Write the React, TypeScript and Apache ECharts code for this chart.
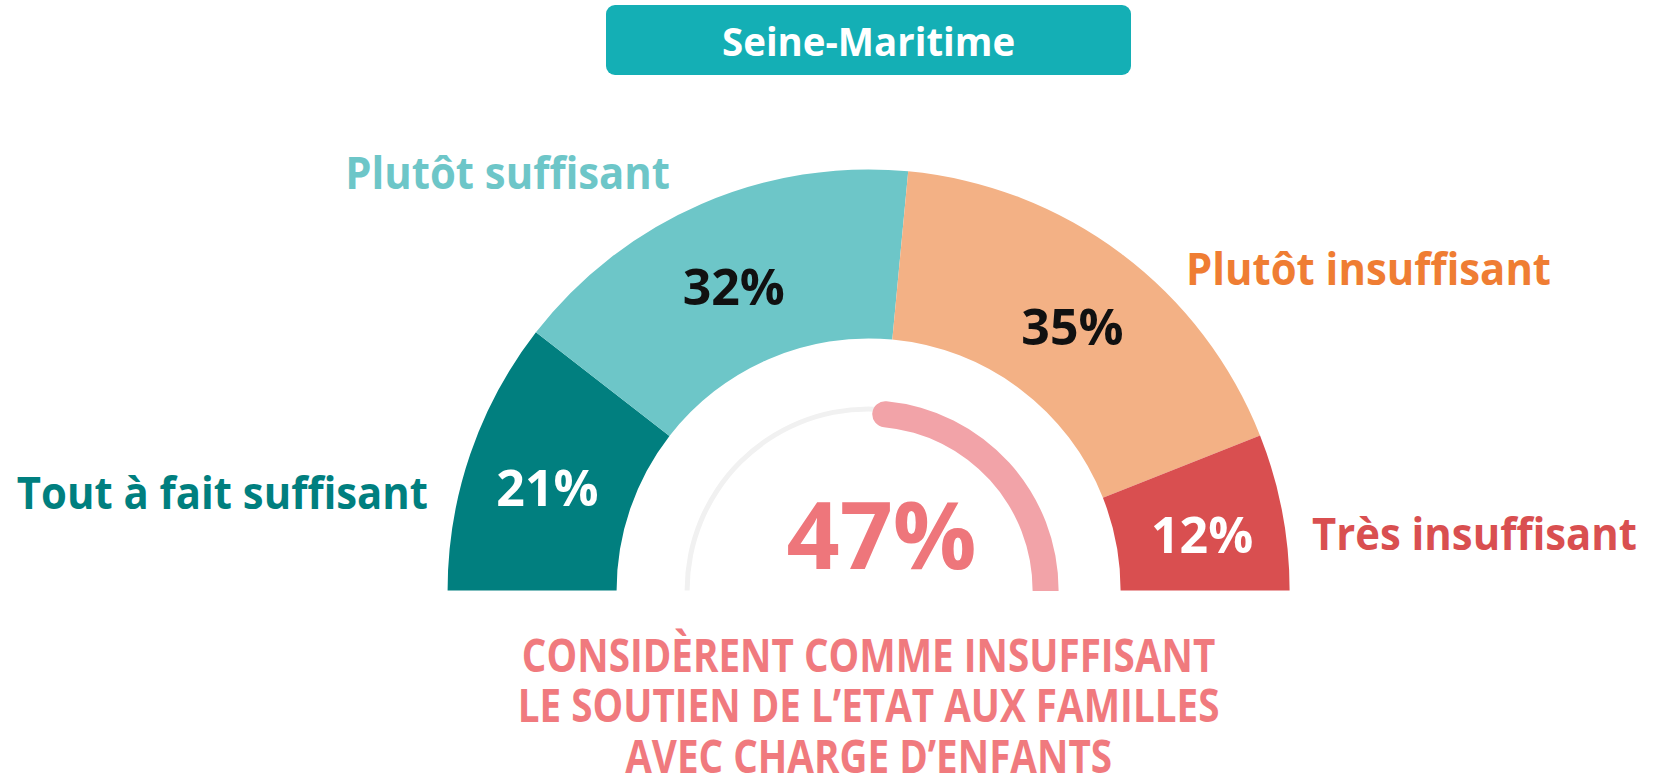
import React, { useEffect, useRef } from "react";
import * as echarts from "echarts";

const title = "Seine-Maritime";
const categories = ["Tout à fait suffisant", "Plutôt suffisant", "Plutôt insuffisant", "Très insuffisant"];
const values = [21, 32, 35, 12];
const sliceColors = ["#017f7f", "#6dc6c8", "#f3b185", "#d94f50"];
const valueLabelColors = ["#ffffff", "#111111", "#111111", "#ffffff"];
const categoryLabelColors = ["#007f7f", "#6dc6c8", "#ef7d33", "#d94f50"];
const insufficientShare = 47;
const captionLines = [
  "CONSIDÈRENT COMME INSUFFISANT",
  "LE SOUTIEN DE L\u2019ETAT AUX FAMILLES",
  "AVEC CHARGE D\u2019ENFANTS",
];

const FONT = "'Open Sans', 'Noto Sans', sans-serif";
const CX = 868.6;
const CY = 590.4;

// label anchor layout (annotations)
const labelLayout = [
  { x: 428, y: 492, align: "right" },
  { x: 670, y: 172, align: "right" },
  { x: 1186, y: 268, align: "left" },
  { x: 1312, y: 533, align: "left" },
];

export default function App() {
  const ref = useRef<HTMLDivElement>(null);
  useEffect(() => {
    if (!ref.current) return;
    const chart = echarts.init(ref.current, null, { renderer: "svg" });
    const total = values.reduce((a, b) => a + b, 0);
    const pieData: any[] = values.map((v, i) => ({
      name: categories[i],
      value: v,
      itemStyle: { color: sliceColors[i] },
      label: { color: valueLabelColors[i] },
    }));
    pieData.push({
      name: "hidden",
      value: total,
      itemStyle: { color: "none" },
      label: { show: false },
      emphasis: { disabled: true },
    });

    const graphics: any[] = [
      {
        type: "rect",
        shape: { x: 606, y: 5, width: 525, height: 70, r: 9 },
        style: { fill: "#14afb5" },
      },
      {
        type: "text",
        x: CX,
        y: 40,
        scaleX: 0.96,
        style: {
          text: title,
          fill: "#ffffff",
          font: `bold 40px ${FONT}`,
          textAlign: "center",
          textVerticalAlign: "middle",
        },
      },
      ...categories.map((c, i) => ({
        type: "text",
        x: labelLayout[i].x,
        y: labelLayout[i].y,
        scaleX: 0.93,
        style: {
          text: c,
          fill: categoryLabelColors[i],
          font: `bold 45px ${FONT}`,
          textAlign: labelLayout[i].align,
          textVerticalAlign: "middle",
        },
      })),
      ...captionLines.map((t, i) => ({
        type: "text",
        x: CX,
        y: 654 + i * 50.5,
        scaleX: 0.84,
        style: {
          text: t,
          fill: "#f07a7e",
          font: `bold 46px ${FONT}`,
          textAlign: "center",
          textVerticalAlign: "middle",
        },
      })),
      {
        type: "rect",
        z: 100,
        shape: { x: 1020, y: 591, width: 55, height: 18 },
        style: { fill: "#ffffff" },
      },
    ];

    chart.setOption({
      animation: false,
      series: [
        {
          type: "pie",
          center: [CX, CY],
          radius: [252, 421],
          startAngle: 180,
          clockwise: true,
          silent: true,
          label: {
            show: true,
            position: "inside",
            formatter: "{c}%",
            fontSize: 50,
            fontWeight: "bold",
            fontFamily: FONT,
            offset: [0, 7],
          },
          labelLine: { show: false },
          data: pieData,
        },
        {
          type: "gauge",
          center: [CX, CY],
          radius: 184,
          startAngle: 0,
          endAngle: 180,
          clockwise: false,
          min: 0,
          max: 100,
          silent: true,
          axisLine: { lineStyle: { width: 5, color: [[1, "#f1f1f1"]] } },
          axisTick: { show: false },
          splitLine: { show: false },
          axisLabel: { show: false },
          pointer: { show: false },
          title: { show: false },
          detail: { show: false },
          data: [{ value: 0 }],
        },
        {
          type: "gauge",
          center: [CX, CY],
          radius: 190,
          startAngle: 0,
          endAngle: 180,
          clockwise: false,
          min: 0,
          max: 100,
          silent: true,
          axisLine: { show: false },
          axisTick: { show: false },
          splitLine: { show: false },
          axisLabel: { show: false },
          pointer: { show: false },
          title: { show: false },
          progress: { show: true, width: 26, roundCap: true, itemStyle: { color: "#f2a3a8" } },
          detail: {
            show: true,
            offsetCenter: [13, -57],
            formatter: "{value}%",
            fontSize: 93,
            fontWeight: "bold",
            fontFamily: FONT,
            color: "#ee767b",
          },
          data: [{ value: insufficientShare }],
        },
      ],
      graphic: graphics,
    });
    return () => chart.dispose();
  }, []);
  return (
    <div
      ref={ref}
      style={{ position: "fixed", left: 0, top: 0, width: 1668, height: 773, background: "#ffffff" }}
    />
  );
}
